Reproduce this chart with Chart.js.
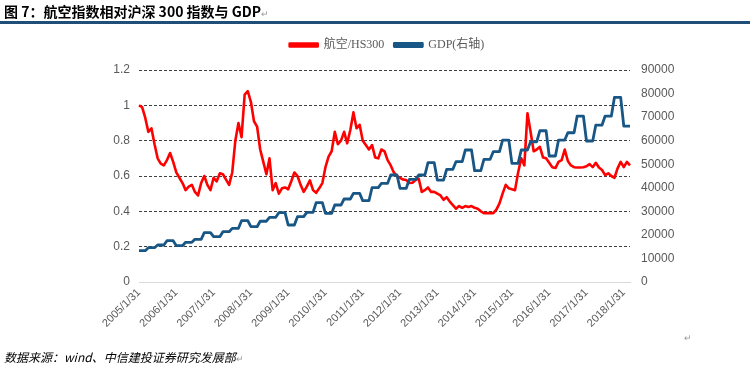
<!DOCTYPE html>
<html>
<head>
<meta charset="utf-8">
<script src="https://cdn.jsdelivr.net/npm/chart.js@4.4.0/dist/chart.umd.min.js"></script>
<style>
  html, body { margin: 0; padding: 0; background: #fff; }
  #cadre { position: relative; width: 754px; height: 375px; overflow: hidden; }
  #titre { position: absolute; left: 4px; top: 1px; font: bold 14px "Noto Sans CJK SC", sans-serif; color: #000; white-space: nowrap; }
  #regle { position: absolute; left: 0; top: 21px; width: 750px; height: 3px; background: #1f4e79; }
  #source { position: absolute; left: 4px; top: 348px; font: italic 12px "Noto Sans CJK SC", sans-serif; color: #000; white-space: nowrap; }
  .retour { color: #999; font-size: 9px; font-style: normal; font-weight: normal; }
  #marque { position: absolute; left: 684px; top: 333px; }
  canvas { position: absolute; left: 0; top: 0; }
</style>
</head>
<body>
<div id="cadre">
  <canvas id="graphique" width="754" height="375"></canvas>
  <div id="titre">图 7：航空指数相对沪深 300 指数与 GDP<span class="retour">↵</span></div>
  <div id="regle"></div>
  <div id="source">数据来源：wind、中信建投证券研究发展部<span class="retour">↵</span></div>
  <span id="marque" class="retour">↵</span>
</div>
<script>
// series noms
const nomRatio = "航空/HS300";
const nomGdp = "GDP(右轴)";

//航空/HS300, mensuel, 2005/1 -> 2018/3
const ratioHS300 = [
  1.00, 0.99, 0.93, 0.85, 0.87, 0.78, 0.70, 0.67, 0.66, 0.69, 0.73, 0.68,
  0.62, 0.59, 0.56, 0.52, 0.54, 0.55, 0.51, 0.49, 0.56, 0.60, 0.55, 0.52,
  0.59, 0.57, 0.615, 0.61, 0.58, 0.55, 0.62, 0.80, 0.90, 0.82, 1.06, 1.08,
  1.02, 0.91, 0.88, 0.75, 0.68, 0.61, 0.70, 0.52, 0.56, 0.50, 0.53, 0.535,
  0.525, 0.57, 0.62, 0.60, 0.55, 0.51, 0.54, 0.575, 0.52, 0.505, 0.53, 0.56,
  0.65, 0.71, 0.74, 0.85, 0.78, 0.80, 0.85, 0.785, 0.86, 0.96, 0.87, 0.89,
  0.80, 0.775, 0.75, 0.775, 0.705, 0.70, 0.75, 0.74, 0.69, 0.66, 0.62, 0.60,
  0.59, 0.58, 0.577, 0.56, 0.562, 0.577, 0.585, 0.51, 0.52, 0.535, 0.51, 0.51,
  0.50, 0.49, 0.465, 0.48, 0.455, 0.435, 0.415, 0.43, 0.42, 0.43, 0.425, 0.43,
  0.42, 0.415, 0.40, 0.39, 0.39, 0.39, 0.39, 0.41, 0.445, 0.50, 0.55, 0.53,
  0.525, 0.52, 0.62, 0.70, 0.66, 0.955, 0.85, 0.74, 0.75, 0.765, 0.705, 0.70,
  0.675, 0.65, 0.645, 0.68, 0.69, 0.75, 0.685, 0.66, 0.65, 0.648, 0.648, 0.65,
  0.655, 0.667, 0.65, 0.675, 0.648, 0.634, 0.605, 0.615, 0.60, 0.59, 0.643, 0.68,
  0.65, 0.68, 0.66
];

// GDP trimestriel (axe droit), 2005Q1 -> 2018Q1
const gdpTrimestre = [
  13300, 14560, 15700, 17530,
  15400, 16850, 18120, 20930,
  19230, 21350, 22780, 26020,
  23470, 25800, 27450, 29430,
  24190, 27730, 29570, 33660,
  29150, 32680, 35230, 37630,
  34510, 40100, 41870, 45420,
  39770, 43590, 45420, 50650,
  43290, 47830, 51070, 56030,
  47260, 52070, 55320, 60270,
  50370, 56030, 59550, 64220,
  53480, 60270, 63370, 70460,
  59850, 66640, 70460, 78400,
  66210
];

// categories: fin de chaque mois
const mois = [];
for (let i = 0; i < ratioHS300.length; i++) {
  let annee = 2005 + Math.floor(i / 12);
  let m = i % 12;
  let jour = new Date(annee, m + 1, 0).getDate();
  mois.push(annee + "/" + (m + 1) + "/" + jour);
}

// chaque trimestre tenu sur 3 mois
const gdpMois = [];
gdpTrimestre.forEach(function (v) {
  gdpMois.push(v, v, v);
});

const grisTexte = "#595959";
const policeAxe = { family: "'Liberation Sans', Arial, sans-serif", size: 12 };

// un peu d'air sous la legende
const margeLegende = {
  id: "margeLegende",
  beforeInit(chart) {
    const fitOrig = chart.legend.fit;
    chart.legend.fit = function () {
      fitOrig.bind(chart.legend)();
      this.height += 9;
    };
  },
};

const ctx = document.getElementById("graphique").getContext("2d");
const monGraphique = new Chart(ctx, {
  type: "line",
  data: {
    labels: mois,
    datasets: [
      {
        label: nomRatio,
        data: ratioHS300,
        yAxisID: "y",
        borderColor: "#ff0000",
        backgroundColor: "#ff0000",
        borderWidth: 2.6,
        pointRadius: 0,
        tension: 0,
        borderJoinStyle: "round",
        order: 1,
      },
      {
        label: nomGdp,
        data: gdpMois,
        yAxisID: "y1",
        borderColor: "#175685",
        backgroundColor: "#175685",
        borderWidth: 2.8,
        pointRadius: 0,
        tension: 0,
        borderJoinStyle: "round",
        order: 0,
      },
    ],
  },
  options: {
    responsive: false,
    animation: false,
    layout: { padding: { left: 20, right: 0, top: 29, bottom: 40 } },
    plugins: {
      legend: {
        position: "top",
        labels: {
          boxWidth: 28,
          boxHeight: 3,
          padding: 10,
          color: grisTexte,
          font: { family: "'Liberation Serif', 'Noto Sans CJK SC', serif", size: 12 },
          sort: function (a, b) { return a.datasetIndex - b.datasetIndex; },
        },
      },
      tooltip: { enabled: false },
    },
    scales: {
      x: {
        type: "category",
        offset: false,
        grid: { display: false, drawTicks: false },
        border: { display: true, color: "#d9d9d9", width: 1 },
        ticks: {
          autoSkip: false,
          maxRotation: 45,
          minRotation: 45,
          padding: 4,
          color: grisTexte,
          font: { family: "'Liberation Sans', Arial, sans-serif", size: 11 },
          callback: function (val, idx) {
            return idx % 12 === 0 ? this.getLabelForValue(val) : "";
          },
        },
        afterFit: function (s) { s.height = 53; },
      },
      y: {
        position: "left",
        min: 0,
        max: 1.2,
        ticks: {
          stepSize: 0.2,
          padding: 9,
          color: grisTexte,
          font: policeAxe,
          callback: function (v) { return String(Math.round(v * 10) / 10); },
        },
        grid: {
          drawTicks: false,
          lineWidth: 1,
          color: function (c) { return c.tick && c.tick.value === 0 ? "#d9d9d9" : "#404040"; },
        },
        border: {
          display: false,
          dash: function (c) { return c.tick && c.tick.value === 0 ? [] : [3, 2]; },
        },
        afterFit: function (s) { s.width = 119; },
      },
      y1: {
        position: "right",
        min: 0,
        max: 90000,
        ticks: {
          stepSize: 10000,
          padding: 11,
          color: grisTexte,
          font: policeAxe,
          callback: function (v) { return String(v); },
        },
        grid: { display: false, drawTicks: false },
        border: { display: false },
        afterFit: function (s) { s.width = 124; },
      },
    },
  },
  plugins: [margeLegende],
});
</script>
</body>
</html>
